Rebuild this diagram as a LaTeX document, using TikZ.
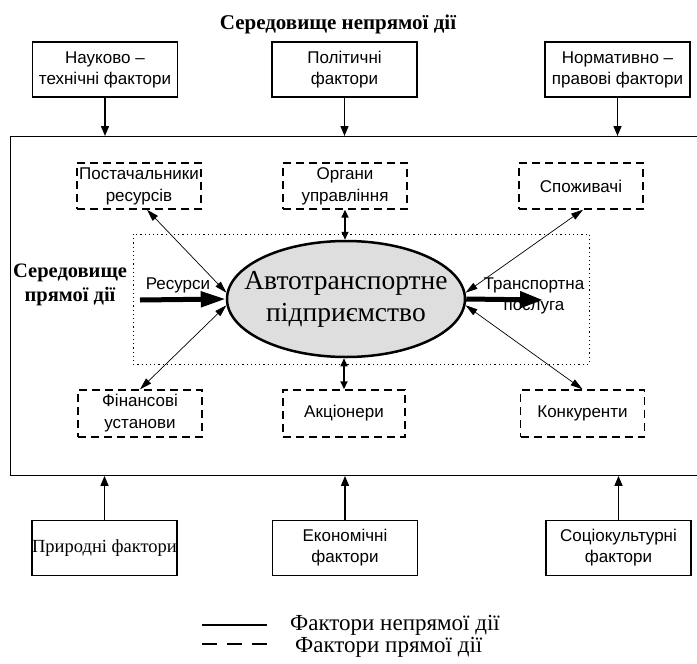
\documentclass[tikz,border=0pt]{standalone}
\usepackage{fontspec}
\setmainfont{Liberation Serif}
\setsansfont{Liberation Sans}
\usetikzlibrary{arrows.meta,shapes.geometric}
\definecolor{ellfill}{RGB}{222,222,222}
\begin{document}
\begin{tikzpicture}[x=1pt,y=-1pt,
  solidbox/.style={draw, line width=1.2pt, minimum width=145pt, minimum height=55pt, inner sep=0pt, align=center, font=\sffamily\fontsize{17}{21}\selectfont},
  dashbox/.style={draw, line width=1.4pt, dash pattern=on 8pt off 5pt, minimum width=124pt, minimum height=46pt, inner sep=0pt, align=center, font=\sffamily\fontsize{17}{22}\selectfont},
  inarrow/.style={line width=1.4pt, -{Triangle[length=10pt,width=8pt]}},
  thinarrow/.style={line width=0.7pt, {Triangle[length=12pt,width=7pt]}-{Triangle[length=12pt,width=7pt]}},
  vertarrow/.style={line width=1.5pt, {Triangle[length=8pt,width=7pt]}-{Triangle[length=8pt,width=7pt]}},
  thickarrow/.style={line width=5pt, -{Triangle[length=25pt,width=15pt]}},
  boldlabel/.style={font=\bfseries\fontsize{21}{24}\selectfont, align=center},
  sanslabel/.style={font=\sffamily\fontsize{17}{21}\selectfont, align=center, inner sep=0pt},
  legendtext/.style={font=\fontsize{23}{26}\selectfont, anchor=west, inner sep=0pt}
]
\useasboundingbox (0,0) rectangle (697,664);

% title
\node[boldlabel] (title) at (338,24) {Середовище непрямої дії};

% environment rectangle
\node[draw, line width=0.9pt, minimum width=700pt, minimum height=339pt, inner sep=0pt, anchor=north west] (env) at (10,136) {};

% top boxes
\node[solidbox] (nt) at (105,69.5) {Науково –\\технічні фактори};
\node[solidbox] (pol) at (344.5,69.5) {Політичні\\фактори};
\node[solidbox] (norm) at (617.5,69.5) {Нормативно –\\правові фактори};

% bottom boxes
\node[solidbox, font=\fontsize{18.5}{22}\selectfont] (pryr) at (104.5,548) {Природні фактори};
\node[solidbox] (ekon) at (345,548) {Економічні\\фактори};
\node[solidbox] (soc) at (618.5,548) {Соціокультурні\\фактори};

\draw[inarrow] (nt.south) -- (nt.south |- env.north);
\draw[inarrow] (pol.south) -- (pol.south |- env.north);
\draw[inarrow] (norm.south) -- (norm.south |- env.north);
\draw[inarrow] (pryr.north) -- (pryr.north |- env.south);
\draw[inarrow] (ekon.north) -- (ekon.north |- env.south);
\draw[inarrow] (soc.north) -- (soc.north |- env.south);

% dotted rectangle
\draw[line width=1pt, dash pattern=on 1.2pt off 3pt] (133,234) rectangle (589,364);

% dashed boxes
\node[dashbox] (post) at (139,186) {Постачальники\\ресурсів};
\node[dashbox] (org) at (345,186) {Органи\\управління};
\node[dashbox] (spoz) at (581,186) {Споживачі};
\node[dashbox, minimum height=47pt] (fin) at (140,413.5) {Фінансові\\установи};
\node[dashbox, minimum height=47pt, minimum width=122pt] (akc) at (344,413.5) {Акціонери};
\node[dashbox, minimum height=47pt] (konk) at (582.5,413.5) {Конкуренти};

% ellipse
\node[ellipse, draw, line width=2.5pt, fill=ellfill, minimum width=238pt, minimum height=116pt, inner sep=0pt] (ent) at (346,299) {};
\node[font=\fontsize{27.5}{32}\selectfont, align=center] (enttext) at (346,299) {Автотранспортне\\підприємство};

% connectors
\draw[thinarrow] ([xshift=8pt]post.south) -- (ent.177);
\draw[thinarrow] (fin.north) -- (ent.183);
\draw[thinarrow] ([xshift=2pt]spoz.south) -- (ent.3);
\draw[thinarrow] (konk.north) -- (ent.-3);
\draw[vertarrow] (org.south) -- (org.south |- ent.north);
\draw[vertarrow] (akc.north) -- (akc.north |- ent.south);

\coordinate (resin) at (140,300);
\coordinate (servout) at (543,300);
\draw[thickarrow] (resin) -- (ent.west);
\draw[thickarrow, -{Triangle[length=23pt,width=16pt]}] (ent.east) -- (servout);

% labels
\node[sanslabel] (res) at (178,285) {Ресурси};
\node[sanslabel] (serv) at (534,296) {Транспортна\\послуга};
\node[boldlabel, font=\bfseries\fontsize{20.5}{24}\selectfont] (direct) at (70,285) {Середовище\\прямої дії};

% legend
\coordinate (l1a) at (202,625);
\coordinate (l1b) at (267,625);
\coordinate (l2a) at (202,644);
\coordinate (l2b) at (267,644);
\draw[line width=1.3pt] (l1a) -- (l1b);
\draw[line width=1.3pt, dash pattern=on 15pt off 10pt] (l2a) -- (l2b);
\node[legendtext] (leg1) at (290,625) {Фактори непрямої дії};
\node[legendtext] (leg2) at (295,647) {Фактори прямої дії};
\end{tikzpicture}
\end{document}
